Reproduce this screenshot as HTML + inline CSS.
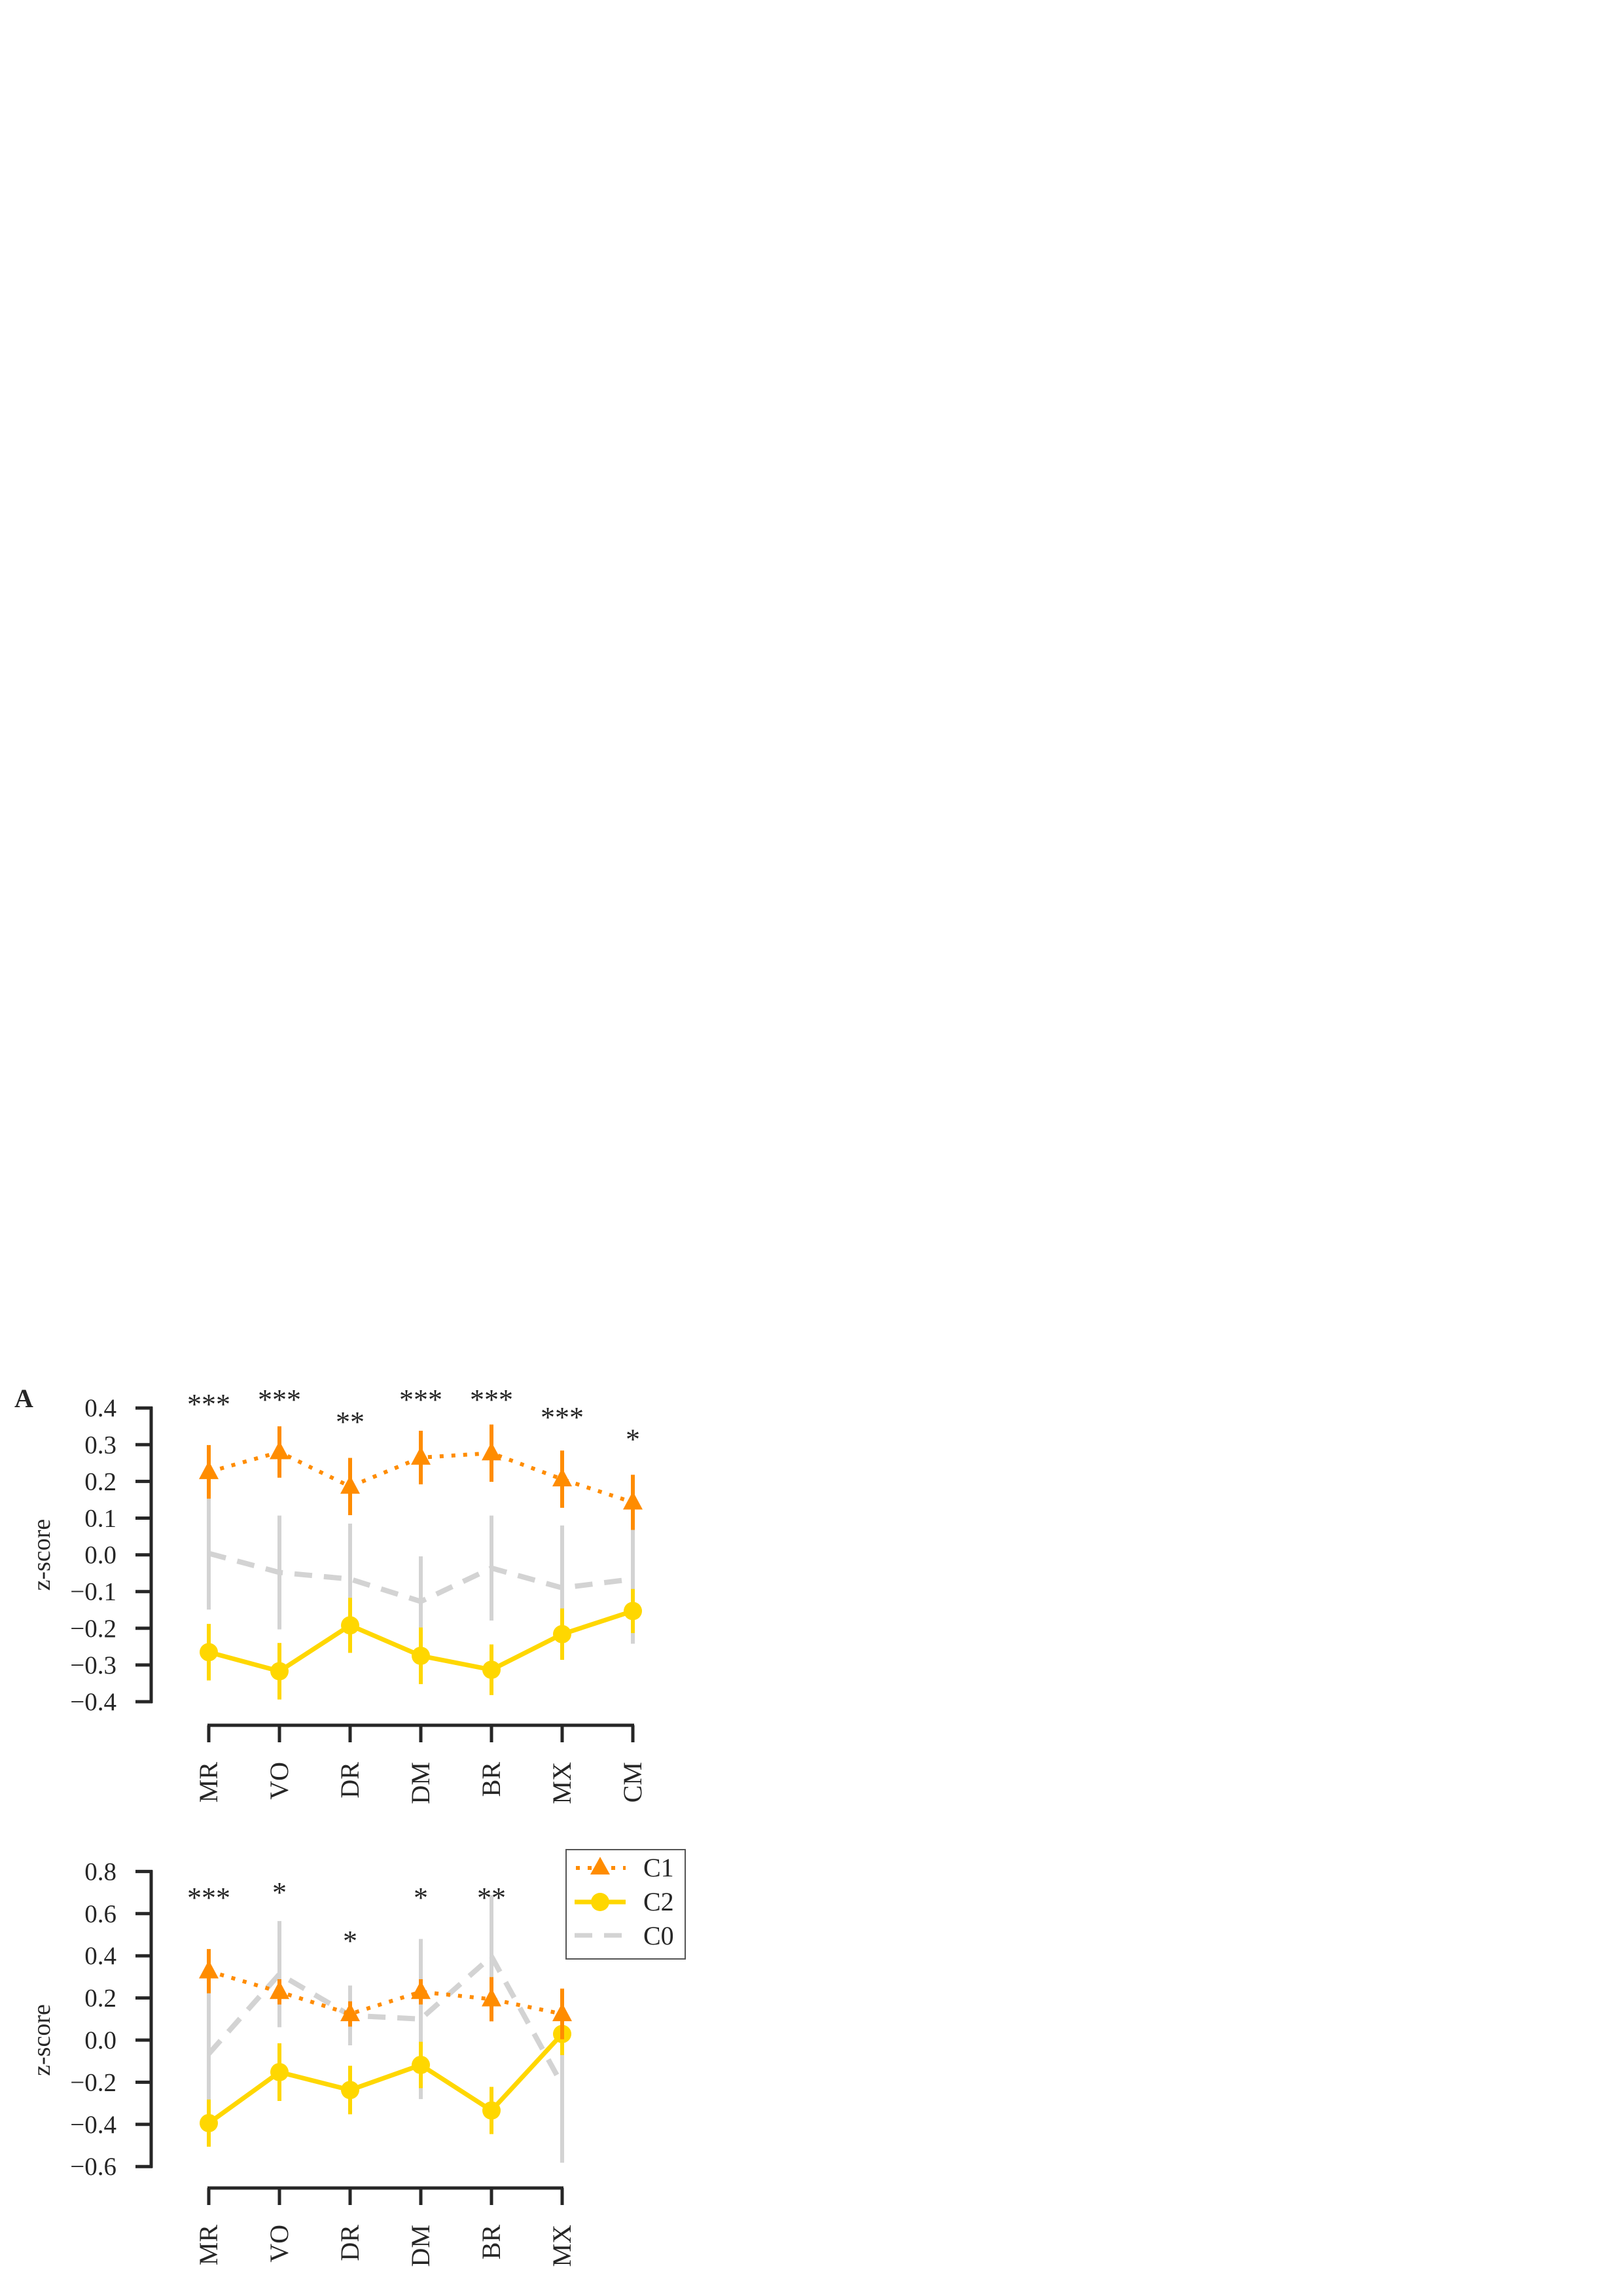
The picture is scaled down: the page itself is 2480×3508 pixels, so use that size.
<!DOCTYPE html>
<html><head><meta charset="utf-8"><style>
html,body{margin:0;padding:0;background:#fff;}
svg{display:block;}
text{font-family:"Liberation Serif",serif;fill:#262626;}
</style></head><body>
<svg id="fig" width="2480" height="3508" viewBox="0 0 2480 3508" xmlns="http://www.w3.org/2000/svg">
<text x="22" y="2150" font-size="40" font-weight="bold">A</text>
<g id="p1"></g>
<g id="p2"></g>
<g id="legend">
<rect x="865" y="2826" width="182" height="167" fill="#fff" stroke="#555" stroke-width="2"/>
<g>
<line x1="880" y1="2854" x2="956" y2="2854" stroke="#FF8C00" stroke-width="6" stroke-dasharray="6 12"/>
<polygon points="917,2837 932,2864 902,2864" fill="#FF8C00"/>
<text x="983" y="2867" font-size="40">C1</text></g>
<g>
<line x1="878" y1="2906" x2="956" y2="2906" stroke="#FFD700" stroke-width="7"/>
<circle cx="917" cy="2906" r="14" fill="#FFD700"/>
<text x="983" y="2919" font-size="40">C2</text></g>
<g>
<line x1="878" y1="2957" x2="956" y2="2957" stroke="#D3D3D3" stroke-width="7" stroke-dasharray="27 18"/>
<text x="983" y="2971" font-size="40">C0</text></g>
</g>
</svg>
<script>
// ---- top panel data ----
const catsA = ["MR","VO","DR","DM","BR","MX","CM"];
const c1A = [0.226,0.28,0.186,0.265,0.277,0.206,0.143];
const c1AErr = [0.073,0.07,0.078,0.073,0.078,0.078,0.075];
const c2A = [-0.265,-0.317,-0.192,-0.275,-0.313,-0.216,-0.153];
const c2AErr = [0.077,0.077,0.075,0.077,0.069,0.07,0.06];
const c0A = [0.004,-0.048,-0.066,-0.127,-0.036,-0.09,-0.066];
const c0AErr = [0.153,0.155,0.151,0.123,0.143,0.17,0.176];
const starsA = ["***","***","**","***","***","***","*"];
const starValA = [0.42,0.432,0.372,0.432,0.432,0.384,0.325];
const ticksA = [-0.4,-0.3,-0.2,-0.1,0.0,0.1,0.2,0.3,0.4];
// ---- bottom panel data ----
const catsB = ["MR","VO","DR","DM","BR","MX"];
const c1B = [0.327,0.229,0.124,0.229,0.194,0.124];
const c1BErr = [0.105,0.06,0.06,0.06,0.105,0.12];
const c2B = [-0.394,-0.152,-0.237,-0.118,-0.334,0.029];
const c2BErr = [0.112,0.137,0.115,0.11,0.112,0.1];
const c0B = [-0.065,0.313,0.117,0.1,0.397,-0.212];
const c0BErr = [0.35,0.252,0.142,0.38,0.29,0.37];
const starsB = ["***","*","*","*","**",""];
const starValB = [0.693,0.718,0.487,0.693,0.693,0];
const ticksB = [-0.6,-0.4,-0.2,0.0,0.2,0.4,0.6,0.8];

const NS="http://www.w3.org/2000/svg";
function mk(parent,tag,attrs){const e=document.createElementNS(NS,tag);for(const k in attrs)e.setAttribute(k,attrs[k]);parent.appendChild(e);return e;}

function panel(g,cats,c1,c1e,c2,c2e,c0,c0e,stars,starVal,ticks,y0,pxPerUnit,xAxisY,decimals){
  const xOf=i=>319+i*108;
  const yOf=v=>y0-v*pxPerUnit;
  const yTop=yOf(ticks[ticks.length-1]), yBot=yOf(ticks[0]);
  const ya=mk(g,'line',{x1:231,y1:yTop-2,x2:231,y2:yBot+2,stroke:'#262626','stroke-width':5});
  
  
  ticks.forEach(t=>{
    const y=yOf(t);
    const tk=mk(g,'line',{x1:207,y1:y,x2:233,y2:y,stroke:'#262626','stroke-width':5});
    
    
    const lab=mk(g,'text',{x:178,y:y+13,'font-size':39,'text-anchor':'end'});
    lab.textContent=(t<0?'\u2212':'')+Math.abs(t).toFixed(decimals);
    
    
  });
  const yl=mk(g,'text',{x:0,y:0,'font-size':38,'text-anchor':'middle',transform:`translate(76,${y0}) rotate(-90)`});
  yl.textContent='z-score';
  
  
  const xa=mk(g,'line',{x1:xOf(0)-2,y1:xAxisY,x2:xOf(cats.length-1)+2,y2:xAxisY,stroke:'#262626','stroke-width':5});
  
  
  cats.forEach((c,i)=>{
    const x=xOf(i);
    const tk=mk(g,'line',{x1:x,y1:xAxisY,x2:x,y2:xAxisY+26,stroke:'#262626','stroke-width':5});
    
    
    const lab=mk(g,'text',{x:0,y:0,'font-size':40,'text-anchor':'end',transform:`translate(${x+13},${xAxisY+56}) rotate(-90)`});
    lab.textContent=c;
    
    
  });
  const g0=mk(g,'g',{});
  
  
  c0.forEach((v,i)=>{const e=mk(g0,'line',{x1:xOf(i),x2:xOf(i),y1:yOf(v+c0e[i]),y2:yOf(v-c0e[i]),stroke:'#D3D3D3','stroke-width':6});
    
    });
  const l0=mk(g0,'polyline',{points:c0.map((v,i)=>xOf(i)+','+yOf(v)).join(' '),fill:'none',stroke:'#D3D3D3','stroke-width':8,'stroke-dasharray':'27 18'});
  
  
  const g2=mk(g,'g',{});
  
  
  c2.forEach((v,i)=>{const e=mk(g2,'line',{x1:xOf(i),x2:xOf(i),y1:yOf(v+c2e[i]),y2:yOf(v-c2e[i]),stroke:'#FFD700','stroke-width':6});
    
    });
  const l2=mk(g2,'polyline',{points:c2.map((v,i)=>xOf(i)+','+yOf(v)).join(' '),fill:'none',stroke:'#FFD700','stroke-width':7});
  
  
  c2.forEach((v,i)=>{const m=mk(g2,'circle',{cx:xOf(i),cy:yOf(v),r:14,fill:'#FFD700'});
    
    });
  const g1=mk(g,'g',{});
  
  
  c1.forEach((v,i)=>{const e=mk(g1,'line',{x1:xOf(i),x2:xOf(i),y1:yOf(v+c1e[i]),y2:yOf(v-c1e[i]),stroke:'#FF8C00','stroke-width':6});
    
    });
  const l1=mk(g1,'polyline',{points:c1.map((v,i)=>xOf(i)+','+yOf(v)).join(' '),fill:'none',stroke:'#FF8C00','stroke-width':6,'stroke-dasharray':'6 12'});
  
  
  c1.forEach((v,i)=>{const x=xOf(i),y=yOf(v);
    const m=mk(g1,'polygon',{points:`${x},${y-17} ${x+15},${y+11} ${x-15},${y+11}`,fill:'#FF8C00'});
    
    });
  stars.forEach((s,i)=>{ if(!s) return;
    const t=mk(g,'text',{x:xOf(i),y:yOf(starVal[i])+20,'font-size':44,'text-anchor':'middle'});
    t.textContent=s;
    
    });
}
panel(document.getElementById('p1'),catsA,c1A,c1AErr,c2A,c2AErr,c0A,c0AErr,starsA,starValA,ticksA,2375.6,561,2636,1);
panel(document.getElementById('p2'),catsB,c1B,c1BErr,c2B,c2BErr,c0B,c0BErr,starsB,starValB,ticksB,3117,322,3343,1);
</script>
</body></html>
